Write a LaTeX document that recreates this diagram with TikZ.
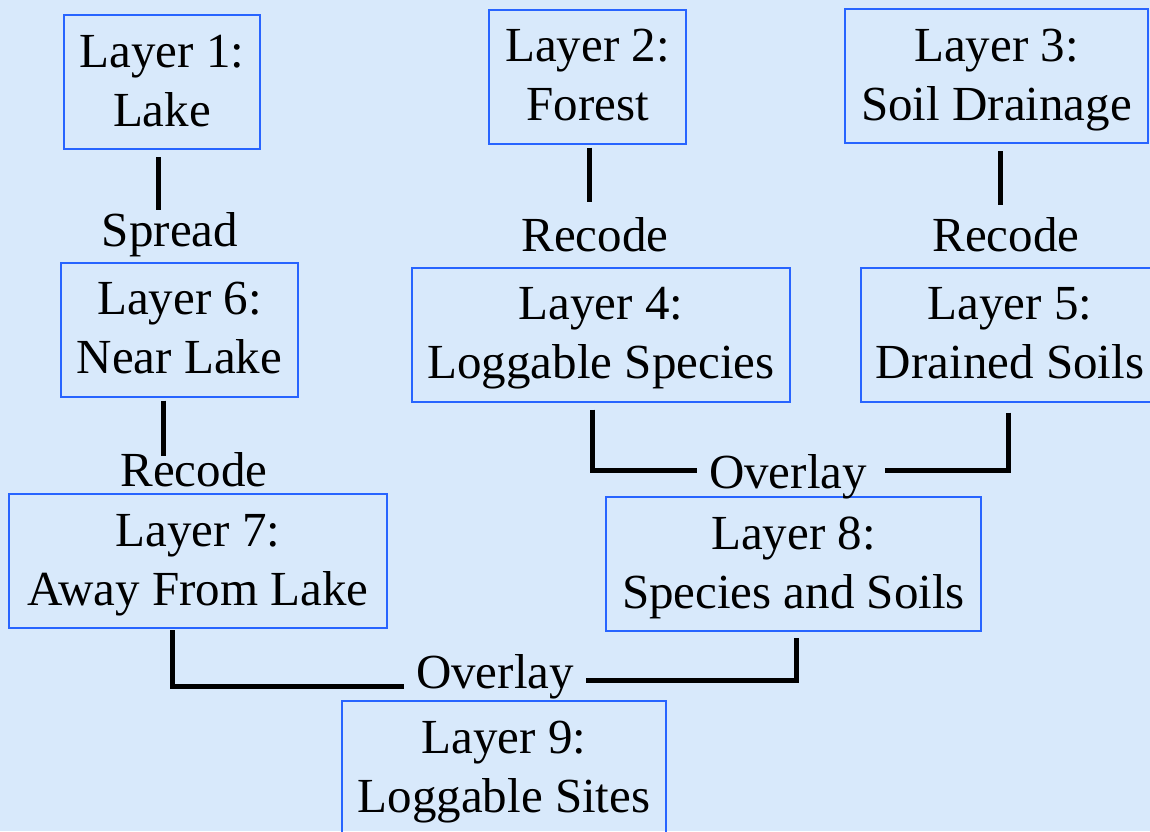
\documentclass[tikz,border=0pt]{standalone}
\usepackage{fontspec}
\setmainfont{Liberation Serif}
\definecolor{bg}{RGB}{216,233,251}
\definecolor{boxblue}{RGB}{40,100,255}
\tikzset{
  layer/.style={draw=boxblue, line width=2pt, minimum height=134pt, inner sep=0pt},
  txt/.style={font=\fontsize{49}{59}\selectfont, anchor=base, inner sep=0pt, text=black},
  conn/.style={line width=5pt, draw=black},
}
\newcommand\layerbox[6]{%
  \node[layer, minimum width=#4pt] (#1) at (#2,#3) {};
  \node[txt] (#1a) at ([yshift=15pt]#1.center) {#5};
  \node[txt] (#1b) at ([yshift=-44pt]#1.center) {#6};
}
\begin{document}
\begin{tikzpicture}[x=1pt,y=-1pt]
\fill[bg] (0,0) rectangle (1150,831);
\useasboundingbox (0,0) rectangle (1150,831);

\layerbox{l1}{162}{82}{196}{Layer 1:}{Lake}
\layerbox{l2}{587.5}{76.5}{197}{Layer 2:}{Forest}
\layerbox{l3}{996.5}{76}{303}{Layer 3:}{Soil Drainage}
\layerbox{l6}{179.5}{329.5}{237}{Layer 6:}{Near Lake}
\layerbox{l4}{601}{334.5}{378}{Layer 4:}{Loggable Species}
\layerbox{l5}{1010}{334.5}{298}{Layer 5:}{Drained Soils}
\layerbox{l7}{198}{561}{378}{Layer 7:}{Away From Lake}
\layerbox{l8}{793.5}{564}{375}{Layer 8:}{Species and Soils}
\layerbox{l9}{504}{768}{324}{Layer 9:}{Loggable Sites}

\node[txt] (spread) at (170,246) {Spread};
\node[txt] (rec2) at (595,251) {Recode};
\node[txt] (rec3) at (1006,251) {Recode};
\node[txt] (rec6) at (194,486) {Recode};
\node[txt] (ov1) at (788,488) {Overlay};
\node[txt] (ov2) at (495,688) {Overlay};

\coordinate (o1l) at (697,470);
\coordinate (o1r) at (885,470);
\coordinate (o2l) at (404,686);
\coordinate (o2r) at (586,680);

\draw[conn] ([xshift=-4pt,yshift=-7pt]l1.south) -- ([xshift=-12pt,yshift=1.5pt]spread.north);
\draw[conn] ([xshift=1.5pt,yshift=-3pt]l2.south) -- ([xshift=-6pt,yshift=14.5pt]rec2.north);
\draw[conn] ([xshift=3.5pt,yshift=-7pt]l3.south) -- ([xshift=-6pt,yshift=11.5pt]rec3.north);
\draw[conn] ([xshift=-16.5pt,yshift=-3pt]l6.south) -- ([xshift=-31pt,yshift=-4.5pt]rec6.north);

\draw[conn] ([xshift=-9pt,yshift=-7pt]l4.south) |- (o1l);
\draw[conn] ([xshift=-2pt,yshift=-10pt]l5.south) |- (o1r);
\draw[conn] ([xshift=-26pt,yshift=-1pt]l7.south) |- (o2l);
\draw[conn] ([xshift=2.5pt,yshift=-6pt]l8.south) |- (o2r);
\end{tikzpicture}
\end{document}
